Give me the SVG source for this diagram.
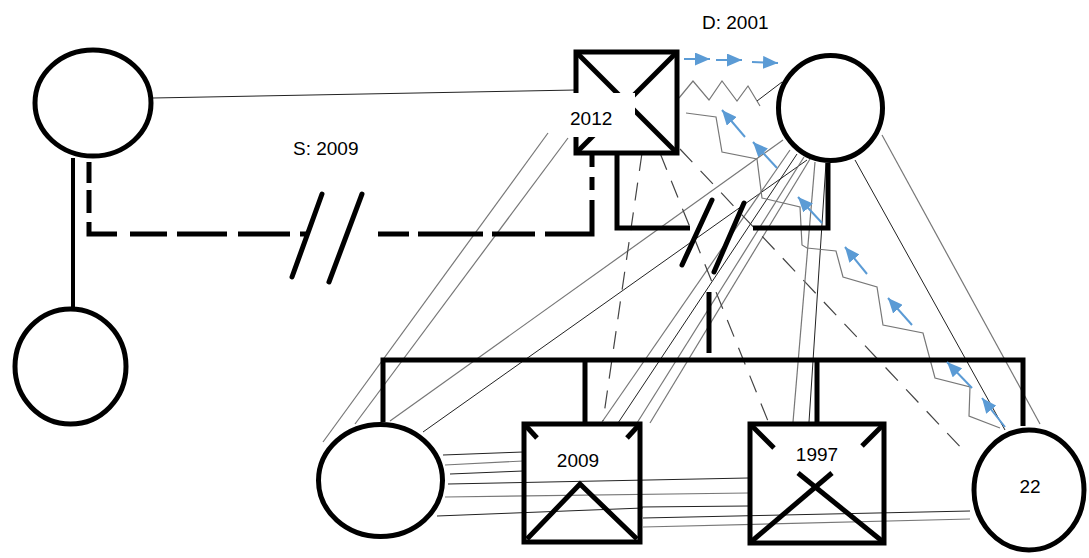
<svg xmlns="http://www.w3.org/2000/svg" width="1089" height="558" viewBox="0 0 1089 558">
<style>
.node{fill:#fff;stroke:#000;stroke-width:5}
.sq{fill:none;stroke:#000;stroke-width:5}
.thick{fill:none;stroke:#000;stroke-width:5}
.slash{stroke:#000;stroke-width:5;stroke-linecap:round}
.t{fill:none;stroke:#222;stroke-width:1}
.g{fill:none;stroke:#777;stroke-width:1.2}
.dg{fill:none;stroke:#444;stroke-width:1.2;stroke-dasharray:18 12}
.blue{stroke:#5B9BD5;stroke-width:2;marker-end:url(#ah)}
.lbl{font-family:"Liberation Sans",Arial,sans-serif;font-size:19px;fill:#000}
</style>
<defs>
<marker id="ah" markerUnits="userSpaceOnUse" markerWidth="15" markerHeight="13" refX="15" refY="6.5" orient="auto">
<path d="M0,0 L15,6.5 L0,13 z" fill="#5B9BD5"/>
</marker>
</defs>
<rect width="1089" height="558" fill="#fff"/>

<g id="connectors">
<line class="t" x1="153" y1="98" x2="576" y2="90"/>
<line class="g" x1="548" y1="133" x2="323" y2="442"/>
<line class="g" x1="568" y1="138" x2="355" y2="424"/>
<line class="g" x1="390" y1="421" x2="783" y2="140"/>
<line class="t" x1="423" y1="432" x2="807" y2="160"/>
<line class="g" x1="790" y1="150" x2="602" y2="422"/>
<line class="t" x1="797" y1="154" x2="618" y2="423"/>
<line class="g" x1="804" y1="157" x2="637" y2="423"/>
<line class="g" x1="810" y1="159" x2="650" y2="423"/>
<line class="dg" x1="642" y1="153" x2="603" y2="421"/>
<line class="dg" x1="660" y1="153" x2="768" y2="421"/>
<line class="dg" x1="680" y1="149" x2="965" y2="452"/>
<line class="g" x1="815" y1="162" x2="793" y2="422"/>
<line class="t" x1="826" y1="163" x2="809" y2="422"/>
<line class="t" x1="855" y1="160" x2="1005" y2="430"/>
<line class="g" x1="882" y1="135" x2="1040" y2="424"/>
<line class="t" x1="443" y1="455" x2="523" y2="452"/>
<line class="g" x1="445" y1="465" x2="523" y2="461"/>
<line class="t" x1="450" y1="474" x2="523" y2="471"/>
<line class="t" x1="448" y1="484" x2="748" y2="478"/>
<line class="g" x1="445" y1="497" x2="748" y2="493"/>
<line class="t" x1="437" y1="516" x2="643" y2="508"/>
<line class="t" x1="640" y1="507" x2="748" y2="506"/>
<line class="t" x1="643" y1="518" x2="970" y2="511"/>
<line class="g" x1="643" y1="527" x2="970" y2="519"/>
<polyline class="g" points="679,98 693,81 709,100 722,81 737,101 748,86 760,106"/>
<line class="t" x1="757" y1="101" x2="782" y2="82"/>
<polyline class="g" points="686,113 716,117 722,152 757,159 762,198 800,207 802,245 807,248 836,251 843,277 877,287 883,325 923,333 935,378 970,387 969,416 1000,428"/>
<line x1="73" y1="158" x2="73" y2="307" stroke="#000" stroke-width="4"/>
<path class="thick" d="M89,162 V183 M89,190 V213 M89,222 V234 H117 M130,234 H167 M177,234 H227 M238,234 H290 M300,234 H307 M378,234 H409 M418,234 H483 M492,234 H535 M545,234 H592 V200 M592,190 V177 M592,167 V152"/>
<line class="slash" x1="292" y1="277" x2="322" y2="194"/>
<line class="slash" x1="329" y1="282" x2="362" y2="194"/>
<path class="thick" d="M617,153 V228 H690 M753,228 H828 V163"/>
<line class="slash" x1="682" y1="265" x2="712" y2="200"/>
<line class="slash" x1="714" y1="272" x2="744" y2="203"/>
<line class="thick" x1="709" y1="292" x2="709" y2="353"/>
<path class="thick" d="M383,422 V360 H1023 V426 M585,360 V424 M817,360 V424"/>
<line class="blue" x1="684" y1="59" x2="710" y2="59"/>
<line class="blue" x1="716" y1="60" x2="742" y2="60"/>
<line class="blue" x1="752" y1="62" x2="778" y2="63"/>
<line class="blue" x1="745" y1="137" x2="722" y2="110"/>
<line class="blue" x1="777" y1="168" x2="753" y2="142"/>
<line class="blue" x1="822" y1="223" x2="798" y2="197"/>
<line class="blue" x1="867" y1="274" x2="845" y2="247"/>
<line class="blue" x1="912" y1="325" x2="888" y2="298"/>
<line class="blue" x1="972" y1="388" x2="947" y2="362"/>
<line class="blue" x1="1005" y1="427" x2="982" y2="398"/>
</g>

<g id="node-tl">
<ellipse class="node" cx="93" cy="103" rx="58" ry="53" stroke-width="4"/>
</g>
<g id="node-bl">
<ellipse class="node" cx="70.5" cy="366.5" rx="55.5" ry="57.5" stroke-width="4"/>
</g>
<g id="node-2012">
<rect class="sq" x="576" y="52" width="101" height="101"/>
<line class="thick" x1="578" y1="54" x2="675" y2="151"/>
<line class="thick" x1="675" y1="54" x2="578" y2="151"/>
<rect x="553" y="93" width="82" height="44" fill="#fff"/>
<text class="lbl" x="570" y="125">2012</text>
</g>
<g id="node-tr">
<ellipse class="node" cx="830.5" cy="108" rx="52" ry="52.5"/>
</g>
<g id="node-sib">
<ellipse class="node" cx="380.5" cy="480.5" rx="62" ry="56"/>
</g>
<g id="node-2009">
<rect class="sq" x="524" y="424" width="116" height="118"/>
<polyline class="thick" points="527,539 580,484 637,539"/>
<line class="thick" x1="526" y1="426" x2="537" y2="438"/>
<line class="thick" x1="638" y1="426" x2="627" y2="438"/>
<text class="lbl" x="578" y="467" text-anchor="middle">2009</text>
</g>
<g id="node-1997">
<rect class="sq" x="750" y="424" width="134" height="119"/>
<line class="thick" x1="752" y1="541" x2="832" y2="473"/>
<line class="thick" x1="798" y1="473" x2="882" y2="541"/>
<line class="thick" x1="752" y1="426" x2="774" y2="448"/>
<line class="thick" x1="882" y1="426" x2="862" y2="446"/>
<text class="lbl" x="817" y="461" text-anchor="middle">1997</text>
</g>
<g id="node-22">
<ellipse class="node" cx="1029" cy="490" rx="55" ry="60" stroke-width="8"/>
<text class="lbl" x="1030" y="493" text-anchor="middle">22</text>
</g>
<g id="labels">
<text class="lbl" x="702" y="29">D: 2001</text>
<text class="lbl" x="293" y="155">S: 2009</text>
</g>
</svg>
